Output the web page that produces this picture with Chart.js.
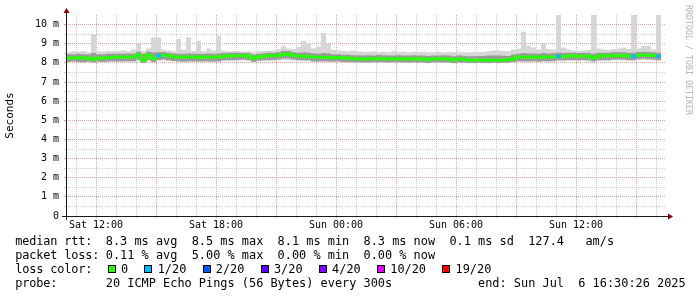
<!DOCTYPE html>
<html lang="en">
<head>
    <meta charset="UTF-8">
    <title>Smokeping latency</title>
    <script src="https://cdn.jsdelivr.net/npm/chart.js"></script>
    <style>
        body { margin: 0; background: #fff; }
        #wrap { position: relative; width: 697px; height: 297px; overflow: hidden; }
        #chart { position: absolute; left: 0; top: 0; }
        .txt { position: absolute; font: 11.9px "DejaVu Sans Mono", monospace; line-height: 14px; white-space: pre; color: #000; }
        .lab { left: 15.3px; letter-spacing: -0.17px; }
        .val { left: 105.8px; }
        .box { display: inline-block; width: 8px; height: 8px; border: 1px solid #000; box-sizing: border-box; margin: 0 5.2px 0 2px; }
        .wm { position: absolute; left: 693.5px; top: 5px; transform: rotate(90deg); transform-origin: 0 0;
              font: 8.3px "DejaVu Sans Mono", monospace; line-height: 10px; white-space: pre; color: #b3b3b3; }
    </style>
</head>
<body>
<div id="wrap">
    <canvas id="chart" width="697" height="297"></canvas>
    <div class="wm">RRDTOOL / TOBI OETIKER</div>

    <div class="txt lab" style="top:234px">median rtt:</div>
    <div class="txt val" style="top:234px">8.3 ms avg  8.5 ms max  8.1 ms min  8.3 ms now  0.1 ms sd  127.4   am/s</div>
    <div class="txt lab" style="top:248px">packet loss:</div>
    <div class="txt val" style="top:248px">0.11 % avg  5.00 % max  0.00 % min  0.00 % now</div>
    <div class="txt lab" style="top:262px">loss color:</div>
    <div class="txt val" style="top:262px" id="losscolors"></div>
    <div class="txt lab" style="top:276px">probe:</div>
    <div class="txt val" style="top:276px">20 ICMP Echo Pings (56 Bytes) every 300s            end: Sun Jul  6 16:30:26 2025</div>
</div>

<script>
    // 15 minute buckets, Sat 10:30 .. Sun 16:15 (hours since Sat 00:00)
    const median = [
        8.26, 8.26, 8.27, 8.25, 8.26, 8.18, 8.26, 8.25, 8.27, 8.29,
        8.30, 8.29, 8.31, 8.30, 8.41, 8.15, 8.40, 8.22, 8.37, 8.40,
        8.38, 8.32, 8.30, 8.29, 8.31, 8.30, 8.28, 8.30, 8.31, 8.29,
        8.30, 8.33, 8.36, 8.37, 8.37, 8.38, 8.36, 8.24, 8.30, 8.34,
        8.37, 8.38, 8.38, 8.44, 8.46, 8.38, 8.36, 8.35, 8.33, 8.30,
        8.29, 8.29, 8.28, 8.27, 8.28, 8.25, 8.25, 8.22, 8.21, 8.20,
        8.22, 8.21, 8.23, 8.22, 8.20, 8.21, 8.22, 8.20, 8.21, 8.22,
        8.20, 8.21, 8.16, 8.20, 8.21, 8.22, 8.20, 8.15, 8.20, 8.19,
        8.15, 8.14, 8.15, 8.14, 8.14, 8.15, 8.14, 8.15, 8.16, 8.22,
        8.30, 8.31, 8.29, 8.30, 8.28, 8.32, 8.30, 8.31, 8.34, 8.33,
        8.36, 8.37, 8.35, 8.36, 8.34, 8.25, 8.35, 8.37, 8.36, 8.38,
        8.37, 8.38, 8.36, 8.35, 8.40, 8.41, 8.40, 8.39, 8.35, 8.35
    ];
    // lost pings per bucket, as index into lossColors
    const loss = [
        0, 0, 0, 0, 0, 0, 0, 0, 0, 0,
        0, 0, 0, 0, 0, 0, 0, 0, 1, 0,
        0, 0, 0, 0, 0, 0, 0, 0, 0, 0,
        0, 0, 0, 0, 0, 0, 0, 0, 0, 0,
        0, 0, 0, 0, 0, 0, 0, 0, 0, 0,
        0, 0, 0, 0, 0, 0, 0, 0, 0, 0,
        0, 0, 0, 0, 0, 0, 0, 0, 0, 0,
        0, 0, 0, 0, 0, 0, 0, 0, 0, 0,
        0, 0, 0, 0, 0, 0, 0, 0, 0, 0,
        0, 0, 0, 0, 0, 0, 0, 0, 1, 0,
        0, 0, 0, 0, 0, 0, 0, 0, 0, 0,
        0, 0, 0, 1, 0, 0, 0, 0, 1, 1
    ];
    // smoke: slowest / fastest ping
    const smokeHi = [
        8.55, 8.60, 8.58, 8.62, 8.55, 9.50, 8.60, 8.58, 8.62, 8.60,
        8.62, 8.65, 8.60, 8.70, 9.00, 8.62, 8.75, 9.33, 9.33, 8.70,
        8.65, 8.60, 9.25, 8.70, 9.33, 8.62, 9.16, 8.60, 8.75, 8.65,
        9.42, 8.65, 8.60, 8.62, 8.60, 8.58, 8.60, 8.55, 8.60, 8.62,
        8.62, 8.65, 8.70, 8.90, 8.75, 8.72, 8.85, 9.16, 9.00, 8.75,
        8.85, 9.56, 9.00, 8.68, 8.65, 8.62, 8.60, 8.65, 8.60, 8.58,
        8.58, 8.60, 8.55, 8.58, 8.56, 8.60, 8.55, 8.58, 8.56, 8.58,
        8.56, 8.58, 8.55, 8.56, 8.58, 8.55, 8.57, 8.55, 8.56, 8.55,
        8.55, 8.56, 8.55, 8.58, 8.60, 8.65, 8.65, 8.62, 8.60, 8.70,
        8.75, 9.62, 8.90, 8.80, 8.70, 9.00, 8.72, 8.70, 10.5, 8.80,
        8.70, 8.65, 8.62, 8.65, 8.68, 10.5, 8.75, 8.70, 8.68, 8.72,
        8.75, 8.80, 8.72, 10.5, 8.75, 8.90, 8.90, 8.70, 10.5, 8.72
    ];
    const smokeLo = [
        8.02, 8.05, 8.03, 8.00, 8.04, 8.02, 8.05, 8.03, 8.04, 8.06,
        8.05, 8.06, 8.04, 8.07, 8.10, 8.00, 8.08, 8.05, 8.10, 8.12,
        8.10, 8.08, 8.05, 8.04, 8.06, 8.05, 8.04, 8.06, 8.05, 8.04,
        8.05, 8.08, 8.10, 8.10, 8.10, 8.12, 8.10, 8.05, 8.08, 8.10,
        8.10, 8.10, 8.12, 8.15, 8.12, 8.12, 8.10, 8.10, 8.08, 8.05,
        8.05, 8.06, 8.04, 8.03, 8.04, 8.02, 8.03, 8.00, 8.00, 8.00,
        8.00, 8.02, 8.00, 8.01, 8.00, 8.02, 8.01, 8.00, 8.01, 8.00,
        8.00, 8.00, 7.98, 8.00, 8.01, 8.00, 8.00, 7.98, 8.00, 8.00,
        7.98, 7.98, 8.00, 7.98, 7.98, 8.00, 7.98, 8.00, 8.00, 8.02,
        8.05, 8.06, 8.05, 8.06, 8.04, 8.06, 8.06, 8.07, 8.08, 8.08,
        8.10, 8.10, 8.08, 8.10, 8.08, 8.05, 8.08, 8.10, 8.10, 8.12,
        8.12, 8.12, 8.10, 8.10, 8.14, 8.15, 8.14, 8.12, 8.10, 8.10
    ];
    // denser inner smoke
    const coreHi = [
        8.45, 8.44, 8.48, 8.45, 8.44, 8.52, 8.45, 8.44, 8.47, 8.48,
        8.48, 8.47, 8.49, 8.48, 8.58, 8.48, 8.58, 8.54, 8.55, 8.57,
        8.53, 8.49, 8.48, 8.47, 8.49, 8.48, 8.47, 8.48, 8.49, 8.47,
        8.49, 8.51, 8.53, 8.53, 8.53, 8.53, 8.51, 8.44, 8.47, 8.50,
        8.53, 8.53, 8.55, 8.62, 8.62, 8.55, 8.53, 8.55, 8.53, 8.50,
        8.48, 8.51, 8.49, 8.45, 8.45, 8.43, 8.43, 8.40, 8.40, 8.38,
        8.40, 8.39, 8.41, 8.40, 8.38, 8.39, 8.40, 8.38, 8.39, 8.40,
        8.38, 8.39, 8.36, 8.38, 8.39, 8.40, 8.38, 8.34, 8.38, 8.37,
        8.34, 8.34, 8.36, 8.36, 8.38, 8.39, 8.38, 8.37, 8.36, 8.44,
        8.48, 8.51, 8.49, 8.49, 8.47, 8.51, 8.49, 8.50, 8.53, 8.51,
        8.53, 8.53, 8.51, 8.53, 8.51, 8.48, 8.53, 8.53, 8.53, 8.55,
        8.55, 8.55, 8.53, 8.53, 8.57, 8.58, 8.57, 8.55, 8.53, 8.53
    ];
    const coreLo = [
        8.05, 8.08, 8.05, 8.03, 8.06, 8.02, 8.07, 8.05, 8.08, 8.09,
        8.09, 8.08, 8.10, 8.09, 8.18, 8.00, 8.15, 8.04, 8.15, 8.17,
        8.13, 8.10, 8.08, 8.07, 8.09, 8.08, 8.07, 8.08, 8.09, 8.07,
        8.09, 8.13, 8.15, 8.15, 8.16, 8.17, 8.15, 8.06, 8.11, 8.13,
        8.15, 8.16, 8.17, 8.23, 8.23, 8.17, 8.15, 8.13, 8.13, 8.09,
        8.09, 8.09, 8.08, 8.07, 8.08, 8.05, 8.05, 8.03, 8.03, 8.02,
        8.02, 8.03, 8.03, 8.03, 8.02, 8.03, 8.03, 8.02, 8.02, 8.03,
        8.02, 8.02, 7.99, 8.02, 8.03, 8.02, 8.02, 7.99, 8.02, 8.01,
        7.99, 7.99, 8.01, 7.99, 7.99, 8.01, 7.99, 8.01, 8.01, 8.04,
        8.08, 8.09, 8.08, 8.09, 8.07, 8.10, 8.09, 8.10, 8.13, 8.13,
        8.15, 8.15, 8.13, 8.15, 8.13, 8.08, 8.13, 8.15, 8.15, 8.17,
        8.17, 8.18, 8.15, 8.15, 8.19, 8.21, 8.19, 8.17, 8.15, 8.15
    ];

    const lossColors = ['#26ff00', '#00b8ff', '#0059ff', '#5e00ff', '#7e00ff', '#dd00ff', '#ff0000'];
    const lossLabels = ['0', '1/20', '2/20', '3/20', '4/20', '10/20', '19/20'];

    const xTickHours = [12, 18, 24, 30, 36];
    const xTickLabels = ['Sat 12:00', 'Sat 18:00', 'Sun 00:00', 'Sun 06:00', 'Sun 12:00'];
    const yTickValues = [0, 1, 2, 3, 4, 5, 6, 7, 8, 9, 10];
    const yTickLabels = ['0', '1 m', '2 m', '3 m', '4 m', '5 m', '6 m', '7 m', '8 m', '9 m', '10 m'];

    const times = median.map((_, i) => 10.5 + i * 0.25);
    const pts = arr => arr.map((v, i) => ({ x: times[i], y: v }));

    const GRID = '#cfcfcf';
    const MGRID = '#ec9f9f';

    // hourly grid, major every 3h; half-ms grid on y
    const xGrid = [];
    for (let h = 11; h <= 40; h++) xGrid.push(h);
    const yGrid = [];
    for (let v = 0; v <= 10; v += 0.5) yGrid.push(v);

    const lc = document.getElementById('losscolors');
    lossLabels.forEach((lab, k) => {
        const b = document.createElement('span');
        b.className = 'box';
        b.style.background = lossColors[k];
        lc.appendChild(b);
        lc.appendChild(document.createTextNode(lab + '  '));
    });

    // rrdtool style axis lines with arrows
    const rrdAxes = {
        id: 'rrdAxes',
        afterDatasetsDraw(chart) {
            const { ctx, chartArea: a } = chart;
            const y0 = a.bottom + 0.5, x0 = a.left + 0.5;
            ctx.save();
            ctx.strokeStyle = '#1a1a1a';
            ctx.lineWidth = 1;
            ctx.beginPath();
            ctx.moveTo(a.left - 4, y0); ctx.lineTo(a.right + 4, y0);
            ctx.moveTo(x0, a.bottom + 4); ctx.lineTo(x0, a.top - 4);
            ctx.stroke();
            ctx.fillStyle = '#800000';
            ctx.beginPath();
            ctx.moveTo(a.right + 2, y0 - 3); ctx.lineTo(a.right + 2, y0 + 3); ctx.lineTo(a.right + 7, y0);
            ctx.fill();
            ctx.beginPath();
            ctx.moveTo(x0 - 3, a.top - 2); ctx.lineTo(x0 + 3, a.top - 2); ctx.lineTo(x0, a.top - 7);
            ctx.fill();
            ctx.restore();
        }
    };

    const tickFont = { family: 'DejaVu Sans Mono', size: 10 };

    new Chart(document.getElementById('chart').getContext('2d'), {
        type: 'line',
        data: {
            datasets: [
                {
                    label: 'median rtt',
                    data: pts(median),
                    stepped: true,
                    borderWidth: 3,
                    borderColor: lossColors[0],
                    segment: { borderColor: c => lossColors[loss[c.p0DataIndex]] },
                    pointRadius: 0,
                    fill: false,
                    order: 0
                },
                { data: pts(coreHi), stepped: true, fill: 2, backgroundColor: '#9a9a9a', borderColor: 'transparent', borderWidth: 0, pointRadius: 0, order: 1 },
                { data: pts(coreLo), stepped: true, fill: false, borderColor: 'transparent', borderWidth: 0, pointRadius: 0, order: 2 },
                { data: pts(smokeHi), stepped: true, fill: 4, backgroundColor: '#d6d6d6', borderColor: 'transparent', borderWidth: 0, pointRadius: 0, order: 3 },
                { data: pts(smokeLo), stepped: true, fill: false, borderColor: 'transparent', borderWidth: 0, pointRadius: 0, order: 4 }
            ]
        },
        options: {
            responsive: false,
            animation: false,
            layout: { padding: { top: 15, right: 31, left: 0, bottom: 0 } },
            plugins: { legend: { display: false }, tooltip: { enabled: false } },
            scales: {
                x: {
                    type: 'linear',
                    min: 10.5,
                    max: 40.5,
                    afterBuildTicks: s => { s.ticks = xGrid.map(v => ({ value: v })); },
                    afterFit: s => { s.height = 81; },
                    ticks: {
                        autoSkip: false,
                        maxRotation: 0,
                        padding: 1,
                        font: tickFont,
                        color: '#000',
                        callback: v => {
                            const k = xTickHours.indexOf(v);
                            return k >= 0 ? xTickLabels[k] : '';
                        }
                    },
                    grid: {
                        color: c => (c.tick && c.tick.value % 3 === 0) ? MGRID : GRID,
                        tickColor: c => (c.tick && c.tick.value % 3 === 0) ? MGRID : GRID,
                        tickLength: 2,
                        lineWidth: 1
                    },
                    border: { display: false, dash: [1, 1] }
                },
                y: {
                    min: 0,
                    max: 10.5,
                    afterBuildTicks: s => { s.ticks = yGrid.map(v => ({ value: v })); },
                    afterFit: s => { s.width = 66; },
                    title: { display: true, text: 'Seconds', font: { family: 'DejaVu Sans Mono', size: 11 }, color: '#000' },
                    ticks: {
                        autoSkip: false,
                        padding: 5,
                        font: tickFont,
                        color: '#000',
                        callback: v => {
                            const k = yTickValues.indexOf(v);
                            return k >= 0 ? yTickLabels[k] : '';
                        }
                    },
                    grid: {
                        color: c => (c.tick && Number.isInteger(c.tick.value)) ? MGRID : GRID,
                        tickColor: c => (c.tick && Number.isInteger(c.tick.value)) ? MGRID : GRID,
                        tickLength: 2,
                        lineWidth: 1
                    },
                    border: { display: false, dash: [1, 1] }
                }
            }
        },
        plugins: [rrdAxes]
    });
</script>
</body>
</html>
